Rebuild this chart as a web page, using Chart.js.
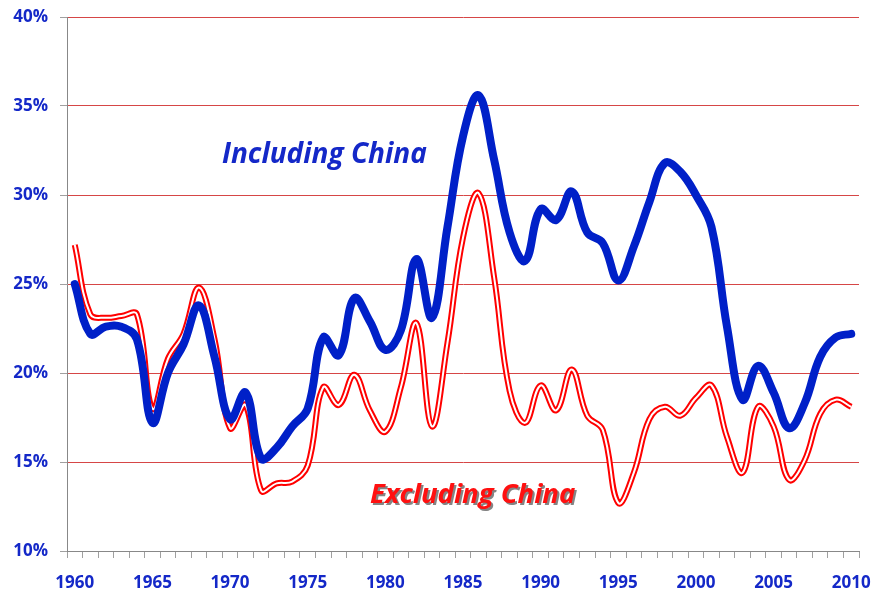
<!DOCTYPE html>
<html>
<head>
<meta charset="utf-8">
<script src="https://cdn.jsdelivr.net/npm/chart.js@4/dist/chart.umd.min.js"></script>
<style>
html,body{margin:0;padding:0;background:#fff;}
#wrap{width:876px;height:599px;}
</style>
</head>
<body>
<div id="wrap"><canvas id="c" width="876" height="599"></canvas></div>
<script>
const years = [];
for (let y = 1960; y <= 2010; y++) years.push(String(y));

const includingChina = [25.0,22.2,22.6,22.6,21.9,17.2,20.0,21.6,23.8,20.9,17.4,18.9,15.2,15.8,17.0,18.0,22.0,21.0,24.2,22.9,21.3,22.4,26.4,23.1,28.2,33.3,35.6,32.0,27.9,26.3,29.2,28.6,30.2,27.9,27.3,25.2,27.1,29.6,31.8,31.3,30.0,28.2,22.6,18.5,20.4,18.9,16.9,18.3,20.9,22.0,22.2];
const excludingChina = [27.2,23.3,23.1,23.2,23.3,18.0,20.8,22.2,24.8,21.9,16.9,18.2,13.4,13.8,13.9,14.8,19.2,18.2,19.9,17.9,16.7,19.2,22.8,17.0,21.7,27.6,30.1,25.4,19.0,17.2,19.3,17.9,20.2,17.6,16.8,12.7,14.4,17.4,18.1,17.6,18.6,19.3,16.4,14.4,18.1,17.0,14.0,15.1,17.7,18.5,18.1];
const yTicks = [10,15,20,25,30,35,40];
const seriesLabels = ['Including China','Excluding China'];

const labelPlugin = {
  id: 'seriesLabels',
  afterDatasetsDraw(chart) {
    const ctx = chart.ctx;
    ctx.save();
    ctx.textBaseline = 'middle';
    ctx.textAlign = 'left';
    function fitFont(text, w) {
      ctx.font = 'italic bold 26px "Open Sans"';
      const m = ctx.measureText(text).width;
      const s = Math.round(26 * w / m * 10) / 10;
      ctx.font = 'italic bold ' + s + 'px "Open Sans"';
    }
    fitFont(seriesLabels[0], 205);
    ctx.fillStyle = '#1428c8';
    ctx.fillText(seriesLabels[0], 222, 155);
    fitFont(seriesLabels[1], 205);
    ctx.fillStyle = 'rgba(110,110,110,0.85)';
    ctx.fillText(seriesLabels[1], 372, 497);
    ctx.fillStyle = '#ff1010';
    ctx.fillText(seriesLabels[1], 370, 495);
    ctx.restore();
  }
};

new Chart(document.getElementById('c'), {
  type: 'line',
  data: {
    labels: years,
    datasets: [
      { label: seriesLabels[1] + ' outer', data: excludingChina, borderColor: '#ff0000', borderWidth: 6, tension: 0.4, pointRadius: 0, fill: false, order: 3 },
      { label: seriesLabels[1] + ' inner', data: excludingChina, borderColor: '#ffffff', borderWidth: 2, tension: 0.4, pointRadius: 0, fill: false, order: 2 },
      { label: seriesLabels[0], data: includingChina, borderColor: '#0020c8', borderWidth: 8, tension: 0.4, pointRadius: 0, fill: false, borderCapStyle: 'round', borderJoinStyle: 'round', order: 1 }
    ]
  },
  options: {
    responsive: false,
    animation: false,
    devicePixelRatio: 1,
    layout: { padding: { top: 17, right: 17, left: 0, bottom: 0 } },
    plugins: { legend: { display: false }, tooltip: { enabled: false } },
    scales: {
      x: {
        type: 'category',
        offset: true,
        grid: { display: true, offset: true, drawOnChartArea: false, drawTicks: true, tickLength: 7, color: '#a0a0a0', tickColor: '#a0a0a0' },
        border: { display: true, color: '#888888', width: 1 },
        ticks: {
          autoSkip: false, maxRotation: 0, padding: 15,
          color: '#1428c8', font: { family: 'Open Sans', weight: 'bold', size: 17 },
          callback: function(v, i) { const y = Number(years[i]); return y % 5 === 0 ? years[i] : ''; }
        },
        afterFit(scale) { scale.height = 48; scale.paddingLeft = 0; scale.paddingRight = 0; }
      },
      y: {
        min: 10, max: 40,
        afterBuildTicks(scale) { scale.ticks = yTicks.map(v => ({ value: v })); },
        grid: { color: 'rgb(214,70,70)', tickColor: '#a0a0a0', tickLength: 7, drawTicks: true, lineWidth: 1 },
        border: { display: true, color: '#888888', width: 1 },
        ticks: {
          padding: 12, color: '#1428c8', font: { family: 'Open Sans', weight: 'bold', size: 17 },
          callback: v => v + '%'
        },
        afterFit(scale) { scale.width = 67; scale.paddingTop = 0; scale.paddingBottom = 0; }
      }
    }
  },
  plugins: [labelPlugin]
});
</script>
</body>
</html>
